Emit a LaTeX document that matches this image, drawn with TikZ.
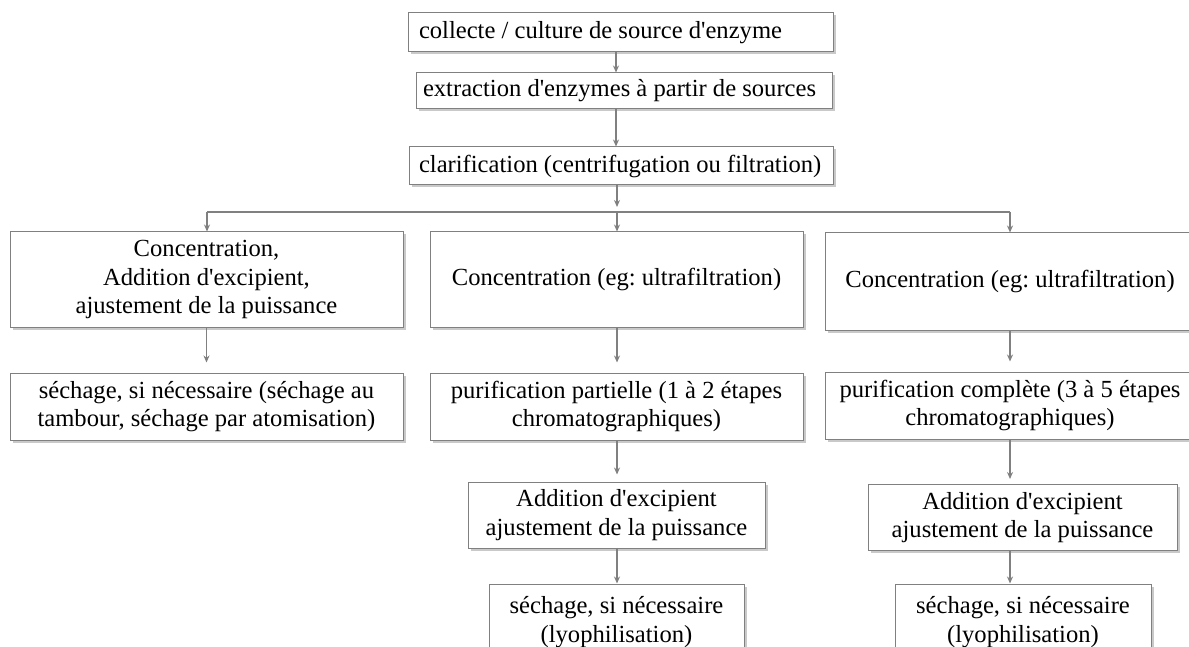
\documentclass[tikz,border=0pt]{standalone}
\usepackage{fontspec}
\setmainfont{Liberation Serif}
\usetikzlibrary{shadows,arrows.meta}
\newcommand{\qs}{\textquotesingle}
\frenchspacing
\begin{document}
\begin{tikzpicture}[x=1pt,y=-1pt,
  box/.style={draw=black!50, line width=1pt, fill=white, align=center,
    inner xsep=0pt, inner ysep=0pt,
    font=\fontsize{24.6}{28.5}\selectfont\frenchspacing,
    drop shadow={shadow xshift=2.5pt, shadow yshift=-2.5pt, opacity=0.35, fill=black!60}},
  lbox/.style={box, minimum height=#1},
  arr/.style={draw=black!50, line width=1.3pt, -{Stealth[length=7pt,width=6pt]}},
  ln/.style={draw=black!50, line width=1.3pt}]
\clip (0,0) rectangle (1189,647);
\fill[white] (0,0) rectangle (1189,647);

% top chain
\node[lbox=39pt] (b1) at (620.5,32.5) {\makebox[425pt][l]{\hspace{11pt}collecte / culture de source d\qs enzyme}};
\node[lbox=36pt] (b2) at (624,91) {\makebox[416pt][l]{\hspace{7pt}extraction d\qs enzymes à partir de sources}};
\node[lbox=38pt] (b3) at (621,166) {\makebox[424pt][l]{\hspace{10pt}clarification (centrifugation ou filtration)}};

% second row
\node[box, minimum width=393pt, minimum height=95pt] (c1) at (206.5,279.5) {Concentration,\\Addition d\qs excipient,\\ajustement de la puissance};
\node[box, minimum width=373pt, minimum height=95pt] (c2) at (616.5,279.5) {Concentration (eg: ultrafiltration)};
\node[box, minimum width=370pt, minimum height=97pt] (c3) at (1010,281.5) {Concentration (eg: ultrafiltration)};

% third row
\node[box, minimum width=393pt, minimum height=67pt] (d1) at (206.5,406.5) {séchage, si nécessaire (séchage au\\tambour, séchage par atomisation)};
\node[box, minimum width=373pt, minimum height=67pt] (d2) at (616.5,406.5) {purification partielle (1 à 2 étapes\\chromatographiques)};
\node[box, minimum width=370pt, minimum height=67pt] (d3) at (1010,405.5) {purification complète (3 à 5 étapes\\chromatographiques)};

% fourth row
\node[box, minimum width=297pt, minimum height=66pt] (e2) at (616.5,515) {Addition d\qs excipient\\ajustement de la puissance};
\node[box, minimum width=309pt, minimum height=66pt] (e3) at (1022.5,517.5) {Addition d\qs excipient\\ajustement de la puissance};

% fifth row
\node[box, minimum width=255pt, minimum height=76pt] (f2) at (616.5,622) {séchage, si nécessaire\\(lyophilisation)};
\node[box, minimum width=256pt, minimum height=76pt] (f3) at (1023,622) {séchage, si nécessaire\\(lyophilisation)};

% connectors
\coordinate (split) at (617,212);
\coordinate (splitL) at (207,212);
\coordinate (splitR) at (1010,212);
\draw[arr] (b1.south -| 616,0) -- (b2.north -| 616,0);
\draw[arr] (b2.south -| 616,0) -- (b3.north -| 616,0);
\draw[arr, shorten >=5pt] (b3.south -| split) -- (split);
\draw[ln] (splitL) -- (splitR);
\draw[arr] (splitL) -- (splitL |- c1.north);
\draw[arr] (split) -- (split |- c2.north);
\draw[arr] (splitR) -- (splitR |- c3.north);
\draw[arr, shorten >=10pt] (c1.south) -- (d1.north);
\draw[arr, shorten >=10pt] (c2.south -| split) -- (split |- d2.north);
\draw[arr, shorten >=10pt] (c3.south -| splitR) -- (splitR |- d3.north);
\draw[arr, shorten >=7pt] (d2.south -| split) -- (split |- e2.north);
\draw[arr, shorten >=5pt] (d3.south -| splitR) -- (splitR |- e3.north);
\draw[arr] (e2.south -| split) -- (split |- f2.north);
\draw[arr] (e3.south -| splitR) -- (splitR |- f3.north);
\end{tikzpicture}
\end{document}
